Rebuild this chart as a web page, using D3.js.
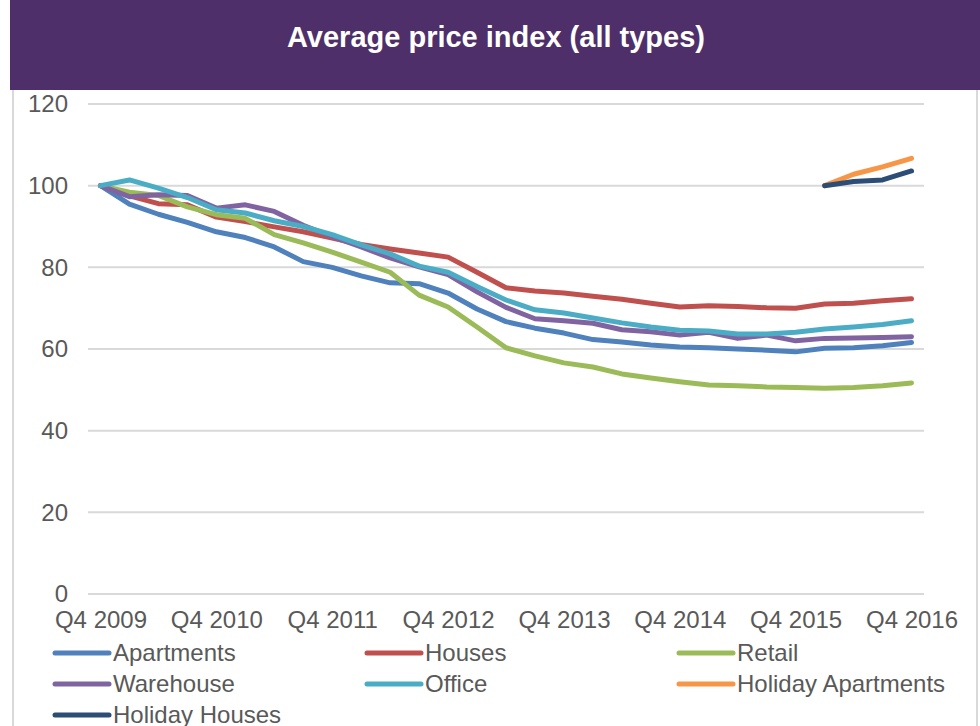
<!DOCTYPE html>
<html>
<head>
<meta charset="utf-8">
<script src="https://cdn.jsdelivr.net/npm/d3@7"></script>
<style>
  body { margin: 0; background: #fff; }
  svg { display: block; font-family: "Liberation Sans", Arial, sans-serif; }
</style>
</head>
<body>
<script>
// quarters shown on the x axis (Q4 2009 .. Q4 2016)
var quarters = ["Q4 2009","Q1 2010","Q2 2010","Q3 2010","Q4 2010","Q1 2011","Q2 2011","Q3 2011",
                "Q4 2011","Q1 2012","Q2 2012","Q3 2012","Q4 2012","Q1 2013","Q2 2013","Q3 2013",
                "Q4 2013","Q1 2014","Q2 2014","Q3 2014","Q4 2014","Q1 2015","Q2 2015","Q3 2015",
                "Q4 2015","Q1 2016","Q2 2016","Q3 2016","Q4 2016"];
var xTickLabels = ["Q4 2009","Q4 2010","Q4 2011","Q4 2012","Q4 2013","Q4 2014","Q4 2015","Q4 2016"];
var yTicks = [0, 20, 40, 60, 80, 100, 120];

// series values
var apartments = [100, 95.5, 93, 91, 88.7, 87.3, 85, 81.4, 80, 77.9, 76.2, 76, 73.7, 69.8, 66.7, 65.1,
                  63.9, 62.3, 61.7, 61, 60.5, 60.3, 60, 59.7, 59.3, 60.2, 60.3, 60.8, 61.6];
var houses = [100, 97.5, 95.6, 95.3, 92.3, 91.2, 89.9, 88.7, 87.2, 85.6, 84.5, 83.5, 82.5, 78.8, 75,
              74.2, 73.7, 72.9, 72.2, 71.2, 70.3, 70.6, 70.4, 70.1, 70, 71, 71.2, 71.8, 72.3];
var retail = [100, 98.4, 97.6, 94.8, 92.9, 92, 88, 86, 83.7, 81.3, 78.8, 73.2, 70.3, 65.4, 60.3,
              58.3, 56.6, 55.6, 53.9, 52.9, 52, 51.2, 51, 50.7, 50.6, 50.4, 50.6, 51, 51.7];
var warehouse = [100, 97.3, 97.8, 97.6, 94.5, 95.3, 93.7, 90.3, 87.5, 85, 82.3, 80.1, 78.2, 74, 70.2,
                 67.4, 66.9, 66.3, 64.7, 64.2, 63.4, 64.1, 62.6, 63.4, 62, 62.6, 62.7, 62.8, 63];
var office = [100, 101.4, 99.4, 97.1, 94.1, 93.3, 91.4, 90, 88, 85.5, 83.3, 80.3, 78.8, 75.3, 72,
              69.6, 68.8, 67.6, 66.4, 65.4, 64.6, 64.4, 63.7, 63.7, 64.1, 64.9, 65.4, 66, 66.9];
var holidayApartments = [null, null, null, null, null, null, null, null, null, null, null, null, null, null, null,
                         null, null, null, null, null, null, null, null, null, null, 100, 102.8, 104.6, 106.7];
var holidayHouses = [null, null, null, null, null, null, null, null, null, null, null, null, null, null, null,
                     null, null, null, null, null, null, null, null, null, null, 100, 101, 101.4, 103.6];

var seriesNames = ["Apartments", "Houses", "Retail", "Warehouse", "Office", "Holiday Apartments", "Holiday Houses"];
var seriesValues = [apartments, houses, retail, warehouse, office, holidayApartments, holidayHouses];
var colors = ["#4f81bd", "#c0504d", "#9bbb59", "#8064a2", "#4bacc6", "#f79646", "#2c4d75"];

var W = 980, H = 726;
var svg = d3.select("body").append("svg").attr("width", W).attr("height", H);

// outer chart frame
svg.append("rect")
    .attr("x", 13).attr("y", 60).attr("width", 964).attr("height", 700)
    .attr("fill", "none").attr("stroke", "#d9d9d9").attr("stroke-width", 2);

// title banner
svg.append("rect")
    .attr("x", 10).attr("y", 0).attr("width", 970).attr("height", 90)
    .attr("fill", "#4e2f69");
svg.append("text")
    .attr("x", 496).attr("y", 47)
    .attr("text-anchor", "middle")
    .attr("fill", "#fff")
    .attr("font-size", "29px")
    .attr("font-weight", "bold")
    .text("Average price index (all types)");

// scales
var x = d3.scalePoint().domain(quarters).range([86, 926]).padding(0.5);
var y = d3.scaleLinear().domain([0, 120]).range([594, 104]);

// gridlines
svg.append("g")
    .selectAll("line")
    .data(yTicks)
    .join("line")
    .attr("x1", 88).attr("x2", 924)
    .attr("y1", function(d) { return y(d); })
    .attr("y2", function(d) { return y(d); })
    .attr("stroke", "#d9d9d9")
    .attr("stroke-width", 2);

// y axis labels
var yAxis = svg.append("g")
    .attr("transform", "translate(70,0)")
    .call(d3.axisLeft(y).tickValues(yTicks).tickSize(0).tickPadding(2));
yAxis.select(".domain").remove();
yAxis.selectAll("text")
    .attr("font-size", "24px")
    .attr("font-family", "Liberation Sans, Arial, sans-serif")
    .attr("fill", "#595959");

// x axis labels
var xAxis = svg.append("g")
    .attr("transform", "translate(0,609)")
    .call(d3.axisBottom(x).tickValues(xTickLabels).tickSize(0).tickPadding(2));
xAxis.select(".domain").remove();
xAxis.selectAll("text")
    .attr("font-size", "24px")
    .attr("font-family", "Liberation Sans, Arial, sans-serif")
    .attr("fill", "#595959");

// lines
var line = d3.line()
    .defined(function(d) { return d != null; })
    .x(function(d, i) { return x(quarters[i]); })
    .y(function(d) { return y(d); });

for (let i = 0; i < seriesValues.length; i++) {
    svg.append("path")
        .datum(seriesValues[i])
        .attr("d", line)
        .attr("fill", "none")
        .attr("stroke", colors[i])
        .attr("stroke-width", 5)
        .attr("stroke-linejoin", "round")
        .attr("stroke-linecap", "round");
}

// legend (3 columns)
var legendCols = [55, 367, 679];
var legendRows = [653, 684, 715];
for (let i = 0; i < seriesNames.length; i++) {
    var lx = legendCols[i % 3], ly = legendRows[Math.floor(i / 3)];
    svg.append("line")
        .attr("x1", lx).attr("x2", lx + 54)
        .attr("y1", ly).attr("y2", ly)
        .attr("stroke", colors[i])
        .attr("stroke-width", 5)
        .attr("stroke-linecap", "round");
    svg.append("text")
        .attr("x", lx + 58).attr("y", ly + 8)
        .attr("font-size", "24px")
        .attr("fill", "#595959")
        .text(seriesNames[i]);
}
</script>
</body>
</html>
